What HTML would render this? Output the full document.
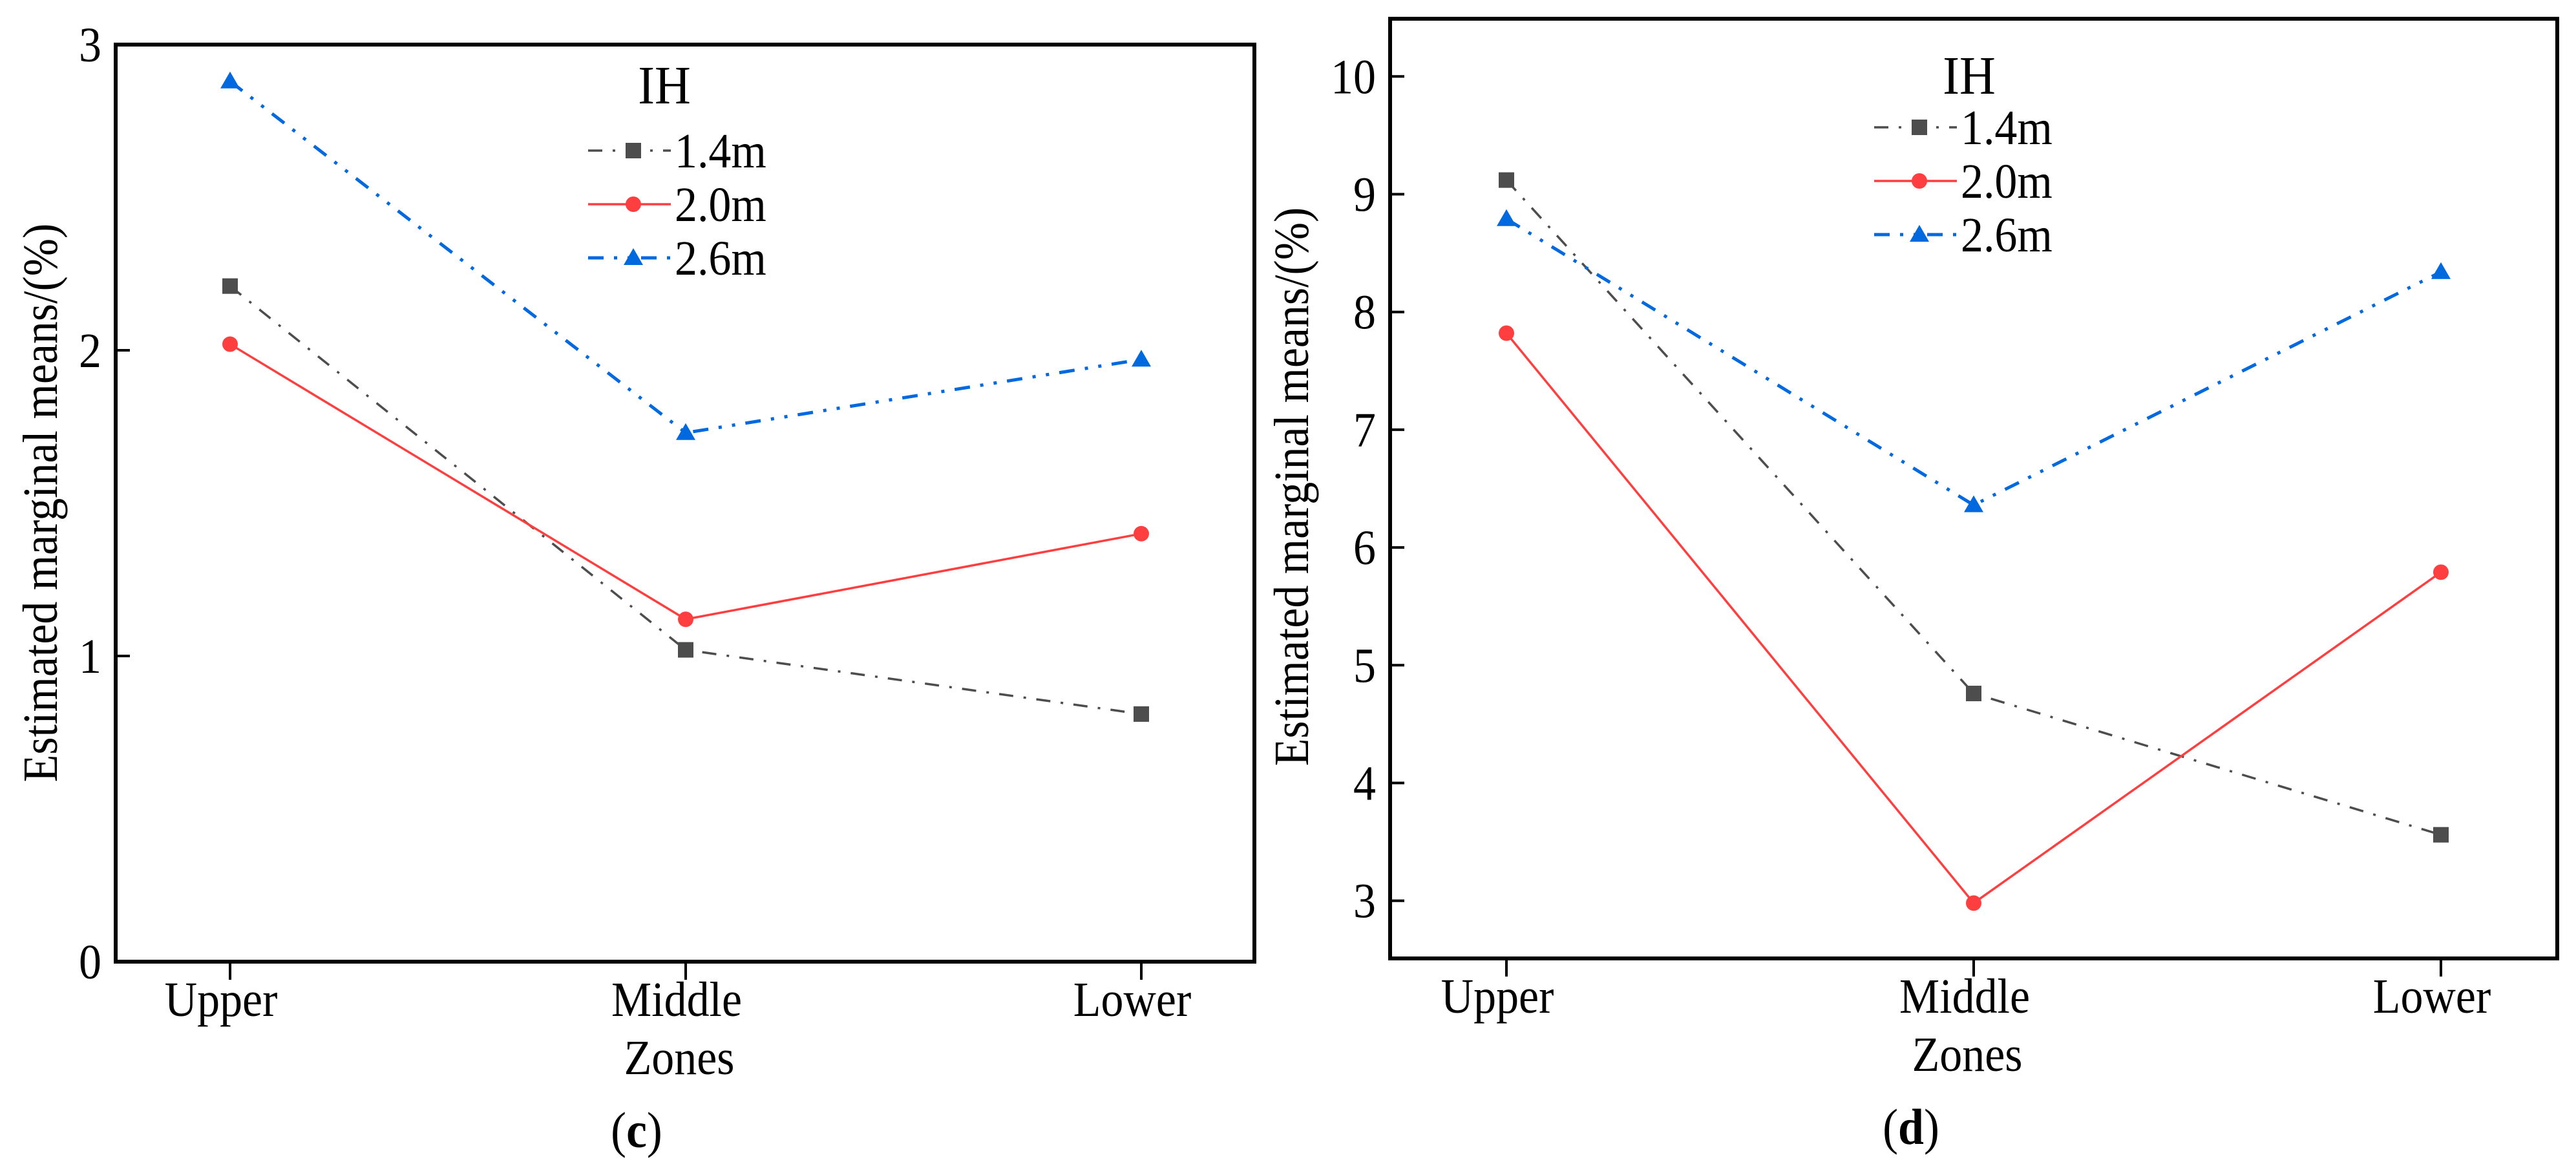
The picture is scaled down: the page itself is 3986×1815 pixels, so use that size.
<!DOCTYPE html>
<html><head><meta charset="utf-8"><style>
html,body{margin:0;padding:0;background:#fff;}
svg{display:block;}
text{font-family:"Liberation Serif",serif;fill:#000;}
</style></head><body>
<svg id="fig" width="3986" height="1815" viewBox="0 0 3986 1815" xmlns="http://www.w3.org/2000/svg"></svg>
<script>
const categories = ["Upper", "Middle", "Lower"];
const seriesNames = ["1.4m", "2.0m", "2.6m"];
const cTicks = [0, 1, 2, 3];
const c14 = [2.21, 1.02, 0.81];
const c20 = [2.02, 1.12, 1.40];
const c26 = [2.88, 1.73, 1.97];
const dTicks = [3, 4, 5, 6, 7, 8, 9, 10];
const d14 = [9.12, 4.76, 3.56];
const d20 = [7.82, 2.98, 5.79];
const d26 = [8.79, 6.36, 8.34];

const NS = "http://www.w3.org/2000/svg";
const svg = document.getElementById("fig");
const SX = 0.92;
function mk(tag, attrs, parent, txt) {
  const e = document.createElementNS(NS, tag);
  for (const k in attrs) e.setAttribute(k, attrs[k]);
  if (txt !== undefined) e.textContent = txt;
  (parent || svg).appendChild(e);
  return e;
}
function txt(parent, x, y, size, anchor, s, rot) {
  const tr = rot ? `translate(${x},${y}) rotate(-90) scale(${SX},1)` : `translate(${x},${y}) scale(${SX},1)`;
  return mk("text", {x: 0, y: 0, "font-size": size, "text-anchor": anchor, transform: tr}, parent, s);
}
const styles = [
  {color: "#4d4d4d", dash: "22 16 4 16", w: 3.5, marker: "square"},
  {color: "#ff3f3f", dash: "", w: 3.5, marker: "circle"},
  {color: "#0069e0", dash: "24 16 5 16 5 16", w: 5, marker: "triangle"}
];
function marker(g, type, x, y, color) {
  let m;
  if (type === "square") m = mk("rect", {x: x - 12, y: y - 12, width: 24, height: 24, fill: color}, g);
  else if (type === "circle") m = mk("circle", {cx: x, cy: y, r: 12, fill: color}, g);
  else m = mk("polygon", {points: `${x},${y - 15} ${x + 15},${y + 11} ${x - 15},${y + 11}`, fill: color}, g);
  
  
}
function chart(cfg) {
  const g = mk("g", {});
  
  
  const yScale = v => cfg.bottom - (v - cfg.yMin) / (cfg.yMax - cfg.yMin) * (cfg.bottom - cfg.top);
  const xScale = i => cfg.x0 + i * cfg.dx;
  cfg.ticks.forEach(t => {
    const y = yScale(t);
    const tk = mk("line", {x1: cfg.left, x2: cfg.left + 22, y1: y, y2: y, stroke: "#000", "stroke-width": 4}, g);
    
    
    const lb = txt(g, cfg.left - 22, y + 26, 76, "end", String(t));
    
    
  });
  categories.forEach((c, i) => {
    const x = xScale(i);
    const tk = mk("line", {x1: x, x2: x, y1: cfg.bottom, y2: cfg.bottom + 28, stroke: "#000", "stroke-width": 4}, g);
    
    
    const lb = txt(g, x - 14, cfg.bottom + 84, 76, "middle", c);
    
    
  });
  cfg.series.forEach((vals, s) => {
    const st = styles[s];
    const pts = vals.map((v, i) => xScale(i) + "," + yScale(v)).join(" ");
    const pl = mk("polyline", {points: pts, fill: "none", stroke: st.color, "stroke-width": st.w, "stroke-dasharray": st.dash}, g);
    
    
    vals.forEach((v, i) => marker(g, st.marker, xScale(i), yScale(v), st.color));
  });
  const fr = mk("rect", {x: cfg.left, y: cfg.top, width: cfg.right - cfg.left, height: cfg.bottom - cfg.top, fill: "none", stroke: "#000", "stroke-width": 6}, g);
  
  
  const lg = mk("g", {}, g);
  
  
  const ti = txt(lg, cfg.ihX, cfg.ihY, 84, "middle", "IH");
  
  
  seriesNames.forEach((n, s) => {
    const st = styles[s];
    const y = cfg.legY + s * 83;
    const ln = mk("line", {x1: cfg.legX, x2: cfg.legX + 128, y1: y, y2: y, stroke: st.color, "stroke-width": st.w, "stroke-dasharray": st.dash}, lg);
    
    
    marker(lg, st.marker, cfg.legX + 70, y, st.color);
    const t = txt(lg, cfg.legX + 134, y + 26, 76, "start", n);
    
    
  });
  const yt = txt(g, cfg.yTitleX, cfg.yTitleY, 76, "middle", "Estimated marginal means/(%)", true);
  
  
  const xt = txt(g, cfg.xTitleX, cfg.xTitleY, 76, "middle", "Zones");
  
  
  const cap = mk("text", {x: 0, y: 0, "font-size": 78, "text-anchor": "middle", transform: `translate(${cfg.capX},${cfg.capY}) scale(${SX},1)`}, g);
  
  
  mk("tspan", {}, cap, "(");
  mk("tspan", {"font-weight": "bold"}, cap, cfg.cap);
  mk("tspan", {}, cap, ")");
}
chart({name: "chart-c", left: 179, right: 1941, top: 69, bottom: 1488, yMin: 0, yMax: 3, ticks: cTicks,
  x0: 356, dx: 705, series: [c14, c20, c26], legX: 910, legY: 233, ihX: 1028, ihY: 160,
  yTitleX: 88, yTitleY: 778, xTitleX: 1051, xTitleY: 1662, capX: 985, capY: 1775, cap: "c"});
chart({name: "chart-d", left: 2151, right: 3957, top: 29, bottom: 1483, yMin: 2.51, yMax: 10.49, ticks: dTicks,
  x0: 2331, dx: 723, series: [d14, d20, d26], legX: 2900, legY: 197, ihX: 3047, ihY: 145,
  yTitleX: 2024, yTitleY: 753, xTitleX: 3044, xTitleY: 1657, capX: 2957, capY: 1770, cap: "d"});
</script>
</body></html>
